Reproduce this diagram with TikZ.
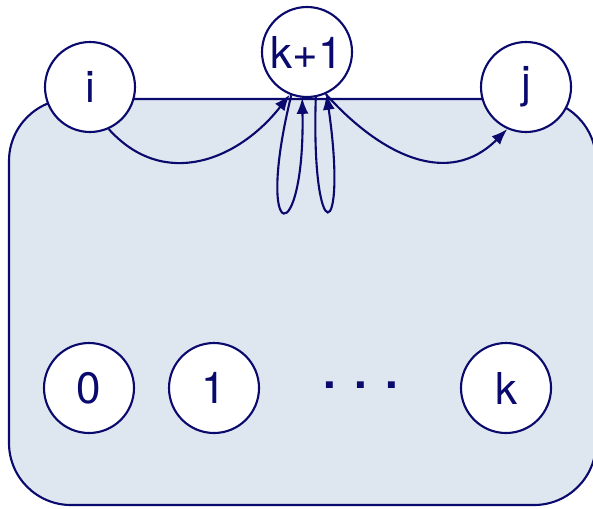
\documentclass[tikz,border=0pt]{standalone}
\usepackage{fontspec}
\setmainfont{TeX Gyre Heros}
\usetikzlibrary{arrows.meta}
\definecolor{navy}{RGB}{10,10,110}
\definecolor{paleblue}{RGB}{222,230,239}
\begin{document}
\begin{tikzpicture}
            \tikzstyle{vertex} = [circle, draw=navy, fill=white, line width=0.6pt, minimum size=0.9cm, inner sep=0pt, text=navy, font=\fontsize{12.5}{15}\selectfont]
            \tikzstyle{edge} = [draw=navy, line width=0.6pt, -{Latex[length=1.6mm, width=1.2mm]}]
            \tikzstyle{region} = [draw=navy, line width=0.6pt, fill=paleblue, rounded corners=0.62cm]
            \clip (0, 0) rectangle (5.93, 5.08);
            \draw[region] (0.09, 0.03) rectangle (5.96, 4.09);

            \node[vertex] (i) at (0.90, 4.21) {i};
            \node[vertex] (k1) at (3.07, 4.56) {k+1};
            \node[vertex] (j) at (5.26, 4.21) {j};

            \node[vertex] (v0) at (0.89, 1.20) {0};
            \node[vertex] (v1) at (2.14, 1.20) {1};
            \node[text=navy, font=\fontsize{13}{15}\selectfont\bfseries] (dots) at (3.61, 1.23) {.\hspace{0.75ex}.\hspace{0.75ex}.};
            \node[vertex] (vk) at (5.06, 1.20) {k};

            \draw[edge] (i.-66) to[out=-48, in=232, looseness=1.15] (k1.248);
            \draw[edge] (k1.-66) to[out=-48, in=225, looseness=1.15] (j.-114);
            \draw[edge] (k1.250) .. controls +(-0.38, -1.55) and +(0.03, -1.52) .. (k1.264);
            \draw[edge] (k1.281) .. controls +(-0.05, -1.55) and +(0.22, -1.52) .. (k1.295);
\end{tikzpicture}
\end{document}
